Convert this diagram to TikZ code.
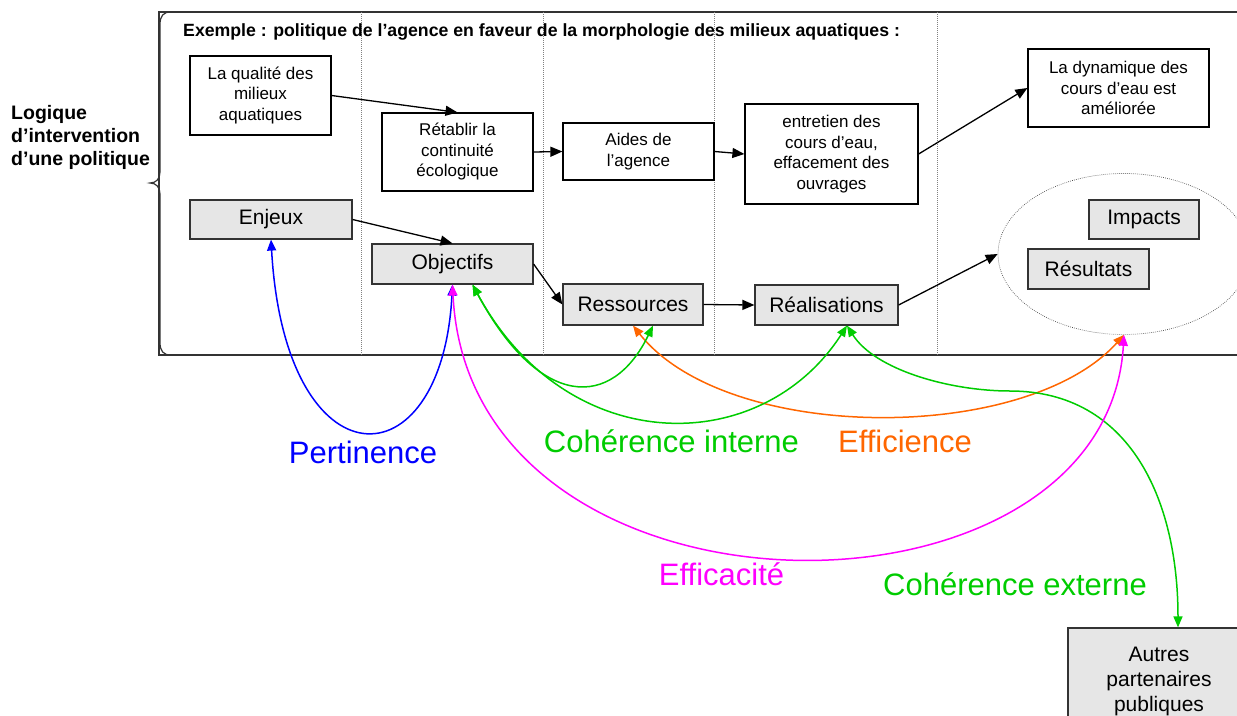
\documentclass[tikz,border=0pt]{standalone}
\usepackage{fontspec}
\setmainfont{Liberation Sans}
\usetikzlibrary{arrows.meta,shapes.geometric}
\definecolor{gfill}{HTML}{E6E6E6}
\definecolor{cgreen}{HTML}{00CC00}
\definecolor{corange}{HTML}{FF6600}
\definecolor{cmag}{HTML}{FF00FF}
\definecolor{cblue}{HTML}{0000FF}
\definecolor{framecol}{HTML}{333333}
\begin{document}
\begin{tikzpicture}[x=1pt,y=-1pt,
  wbox/.style={draw=black,line width=1.2pt,fill=white,align=center,inner sep=0pt,font=\fontsize{17}{20.5}\selectfont},
  gbox/.style={draw=framecol,line width=1.2pt,fill=gfill,align=center,inner sep=0pt,font=\fontsize{21}{25}\selectfont},
  conn/.style={line width=1.3pt,-{Triangle[length=12pt,width=10pt]}},
  rel/.style={line width=1.5pt,{Triangle[length=11pt,width=9pt]}-{Triangle[length=11pt,width=9pt]}},
  lbl/.style={anchor=base,font=\fontsize{31}{36}\selectfont,inner sep=0pt},
  sepline/.style={draw=gray,line width=0.7pt,dash pattern=on 0.7pt off 1.3pt}
]
\useasboundingbox (0,0) rectangle (1237,715);
\clip (0,0) rectangle (1237,715);

% frame and brace
\draw[framecol,line width=1.4pt] (1237,12) -- (159,12) -- (159,355) -- (1237,355);
\draw[framecol,line width=1.2pt] (171,12) .. controls (163,12) and (160,16) .. (160,25) -- (160,172)
  .. controls (160,179) and (156,183) .. (150,183) .. controls (156,183) and (160,187) .. (160,194)
  -- (160,342) .. controls (160,351) and (163,355) .. (171,355);

% dotted separators
\draw[sepline] (361,12) -- (361,355);
\draw[sepline] (543,12) -- (543,355);
\draw[sepline] (714.5,12) -- (714.5,355);
\draw[sepline] (937,12) -- (937,355);

% texts
\node[anchor=west,align=left,inner sep=0pt,font=\bfseries\fontsize{19.5}{23}\selectfont] (logique) at (11,137.5) {Logique\\d’intervention\\d’une politique};
\node[anchor=base west,inner sep=0pt,font=\bfseries\fontsize{17.7}{20}\selectfont] (title) at (183,36) {Exemple : politique de l’agence en faveur de la morphologie des milieux aquatiques :};

% ellipse
\node[ellipse,draw=gray!60!black,line width=0.7pt,dash pattern=on 0.7pt off 1.3pt,minimum width=252pt,minimum height=161pt,inner sep=0pt] (ell) at (1124,254) {};

% white boxes
\node[wbox,minimum width=141pt,minimum height=79pt] (qual) at (260.5,95.5) {La qualité des\\milieux\\aquatiques};
\node[wbox,minimum width=151pt,minimum height=78pt] (ret) at (457.5,152) {Rétablir la\\continuité\\écologique};
\node[wbox,minimum width=151pt,minimum height=57pt] (aides) at (638.5,151.5) {Aides de\\l’agence};
\node[wbox,minimum width=173pt,minimum height=100pt] (entr) at (831.5,154) {entretien des\\cours d’eau,\\effacement des\\ouvrages};
\node[wbox,minimum width=181pt,minimum height=78pt] (dyn) at (1118.5,88) {La dynamique des\\cours d’eau est\\améliorée};

% grey boxes
\node[gbox,minimum width=162pt,minimum height=39pt] (enjeux) at (271,219.5) {Enjeux};
\node[gbox,minimum width=161pt,minimum height=40pt] (obj) at (452.5,264) {Objectifs};
\node[gbox,minimum width=140pt,minimum height=41pt] (ress) at (633,304.5) {Ressources};
\node[gbox,minimum width=143pt,minimum height=40pt] (real) at (826.5,305) {Réalisations};
\node[gbox,minimum width=110pt,minimum height=39pt] (impacts) at (1144,219.5) {Impacts};
\node[gbox,minimum width=121pt,minimum height=40pt] (resultats) at (1088.5,269) {Résultats};
\node[gbox,minimum width=182pt,minimum height=107pt] (autres) at (1159,681.5) {Autres\\partenaires\\publiques};

% black connectors
\draw[conn] (qual.east) -- (ret.north);
\draw[conn] (enjeux.east) -- (obj.north);
\draw[conn] (ret.east) -- (aides.west);
\draw[conn] (aides.east) -- (entr.west);
\draw[conn] (entr.east) -- (dyn.west);
\draw[conn] (obj.east) -- (ress.west);
\draw[conn] (ress.east) -- (real.west);
\draw[conn] (real.east) -- (ell.west);

% evaluation relations
\draw[rel,cblue] (enjeux.south) .. controls (285,487) and (442,487) .. (obj.south);
\draw[rel,corange] (ress.south) .. controls (727,444) and (1026,444) .. (ell.south);
\draw[rel,cgreen] ([xshift=20pt]obj.south) .. controls (540,410) and (612,410) .. ([xshift=20pt]ress.south);
\draw[rel,cgreen] ([xshift=20pt]obj.south) .. controls (567,459) and (761,459) .. ([xshift=20.5pt]real.south);
\draw[rel,cgreen] ([xshift=20.5pt]real.south) .. controls (875,370) and (950,391) .. (1010,391)
  .. controls (1130,391) and (1178,500) .. ([xshift=19pt]autres.north);
\draw[rel,cmag] (obj.south) .. controls (470,640) and (1106,640) .. (ell.south);

% labels
\node[lbl,text=cblue] (pert) at (363,463) {Pertinence};
\node[lbl,text=cgreen] (cohint) at (671.5,452.7) {Cohérence interne};
\node[lbl,text=corange] (effi) at (905,452.7) {Efficience};
\node[lbl,text=cmag] (effa) at (721.5,585) {Efficacité};
\node[lbl,text=cgreen] (cohext) at (1015,595) {Cohérence externe};
\end{tikzpicture}
\end{document}
